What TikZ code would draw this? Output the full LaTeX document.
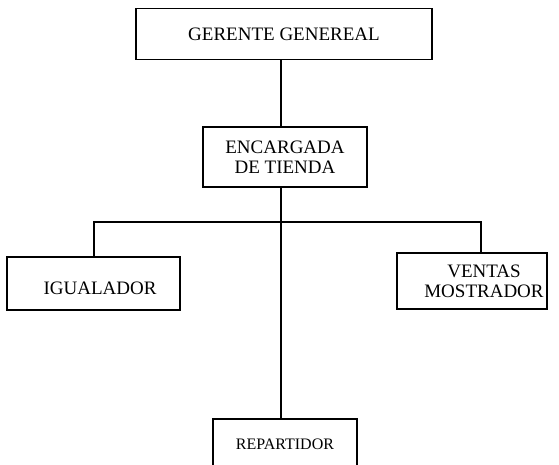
\documentclass[tikz,border=0pt]{standalone}
\usepackage{fontspec}
\setmainfont{Liberation Serif}
\begin{document}
\begin{tikzpicture}[x=1pt,y=-1pt,
  box/.style={draw, line width=1.2pt, inner sep=0pt, align=center, font=\fontsize{19}{20}\selectfont},
  lbl/.style={inner sep=0pt, align=center, font=\fontsize{19}{20}\selectfont},
  link/.style={line width=1.2pt}]
\useasboundingbox (0,0) rectangle (559,464);
\clip (0,0) rectangle (559,464);
\node[box, minimum width=296pt, minimum height=51pt] (ger) at (284,34) {GERENTE GENEREAL};
\node[box, minimum width=164pt, minimum height=60pt] (enc) at (285,157) {ENCARGADA\\DE TIENDA};
\node[box, minimum width=173pt, minimum height=53pt,
  label={[lbl, xshift=6.5pt, yshift=-5pt]center:IGUALADOR}] (igu) at (93.5,283.5) {};
\node[box, minimum width=150pt, minimum height=56pt,
  label={[lbl, xshift=12pt]center:{VENTAS\\MOSTRADOR}}] (ven) at (472,281) {};
\node[box, font=\fontsize{16}{18}\selectfont, minimum width=144pt, minimum height=50pt] (rep) at (285,444) {REPARTIDOR};
\coordinate (sp) at (281,0);
\coordinate (bl) at (94,222);
\coordinate (br) at (481,222);
\draw[link] (ger.south -| sp) -- (enc.north -| sp);
\draw[link] (enc.south -| sp) -- (rep.north -| sp);
\draw[link] (igu.north -| bl) -- (bl) -- (br) -- (ven.north -| br);
\end{tikzpicture}
\end{document}
